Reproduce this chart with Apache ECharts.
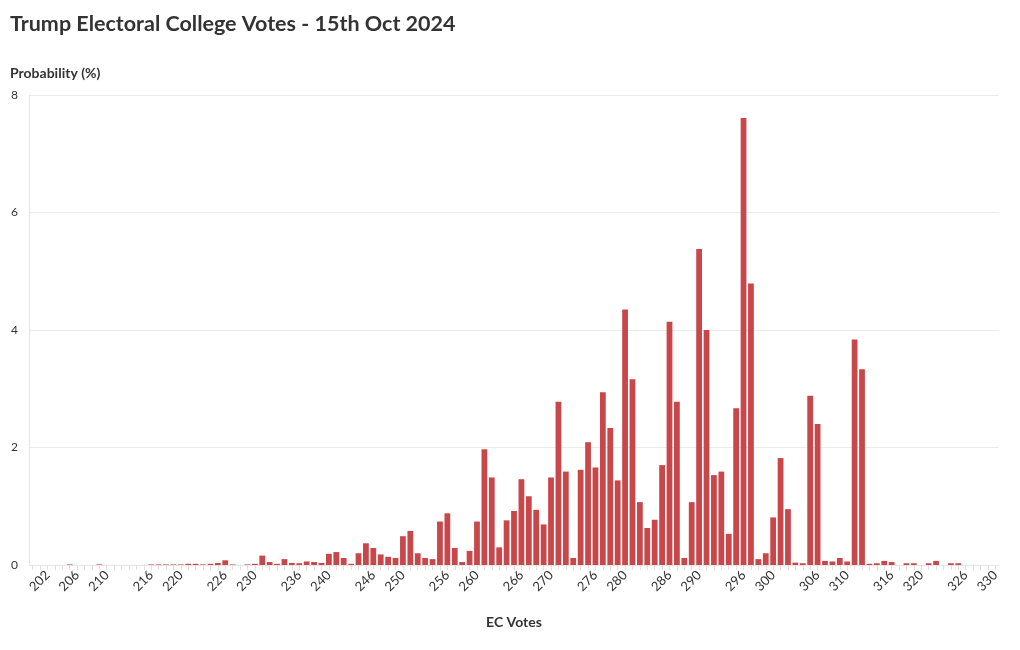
<!DOCTYPE html>
<html>
<head>
<meta charset="utf-8">
<script src="https://cdn.jsdelivr.net/npm/echarts@6/dist/echarts.min.js"></script>
<style>
html,body{margin:0;padding:0;background:#fff;}
#chart{width:1020px;height:650px;}
</style>
</head>
<body>
<div id="chart"></div>
<script>
const categories = [
  200,201,202,203,204,205,206,207,208,209,
  210,211,212,213,214,215,216,217,218,219,
  220,221,222,223,224,225,226,227,228,229,
  230,231,232,233,234,235,236,237,238,239,
  240,241,242,243,244,245,246,247,248,249,
  250,251,252,253,254,255,256,257,258,259,
  260,261,262,263,264,265,266,267,268,269,
  270,271,272,273,274,275,276,277,278,279,
  280,281,282,283,284,285,286,287,288,289,
  290,291,292,293,294,295,296,297,298,299,
  300,301,302,303,304,305,306,307,308,309,
  310,311,312,313,314,315,316,317,318,319,
  320,321,322,323,324,325,326,327,328,329,
  330
];
const probability = [
  0,0,0,0,0,0.01,0,0,0,0.01,
  0,0,0,0,0,0,0.01,0.01,0.01,0.01,
  0.01,0.02,0.02,0.01,0.02,0.035,0.08,0.01,0,0.01,
  0.02,0.16,0.05,0.02,0.1,0.035,0.03,0.06,0.05,0.035,
  0.19,0.22,0.12,0.02,0.2,0.37,0.29,0.18,0.14,0.12,
  0.49,0.58,0.2,0.12,0.1,0.74,0.88,0.29,0.05,0.24,
  0.74,1.97,1.49,0.3,0.76,0.92,1.46,1.17,0.94,0.69,
  1.49,2.78,1.59,0.12,1.62,2.09,1.66,2.94,2.33,1.44,
  4.35,3.16,1.07,0.63,0.77,1.70,4.14,2.78,0.12,1.07,
  5.38,4.0,1.53,1.59,0.53,2.67,7.61,4.79,0.1,0.2,
  0.81,1.82,0.95,0.04,0.03,2.88,2.40,0.07,0.06,0.12,
  0.06,3.84,3.33,0.02,0.03,0.07,0.05,0,0.03,0.03,
  0,0.03,0.07,0,0.03,0.03,0,0,0,0,
  0
];
const tickLabels = [202,206,210,216,220,226,230,236,240,246,250,256,260,266,270,276,280,286,290,296,300,306,310,316,320,326,330];
const yTicks = [0,2,4,6,8];

const FONT = 'Lato';
const chart = echarts.init(document.getElementById('chart'), null, {renderer:'canvas'});
chart.setOption({
  animation:false,
  backgroundColor:'#ffffff',
  textStyle:{fontFamily:FONT},
  title:[
    {text:'Trump Electoral College Votes - 15th Oct 2024', left:10, top:13, padding:0,
     textStyle:{fontFamily:FONT, fontSize:21.5, fontWeight:'bold', color:'#333333'}},
    {text:'Probability (%)', left:10, top:66, padding:0,
     textStyle:{fontFamily:FONT, fontSize:14, fontWeight:'bold', color:'#333333'}}
  ],
  grid:{left:29, right:21, top:95, bottom:85, containLabel:false},
  xAxis:{
    type:'category',
    data:categories.map(String),
    name:'EC Votes',
    nameLocation:'middle',
    nameGap:50,
    nameTextStyle:{fontFamily:FONT, fontSize:14, fontWeight:'bold', color:'#333333'},
    axisLine:{show:true, lineStyle:{color:'#e6e6e6', width:1}},
    axisTick:{show:true, alignWithLabel:true, interval:0, length:5, lineStyle:{color:'#e0e0e0'}},
    axisLabel:{
      rotate:45, fontSize:13, color:'#333333', margin:8, fontFamily:FONT,
      interval:function(idx, val){ return tickLabels.indexOf(Number(val)) >= 0; }
    },
    splitLine:{show:false}
  },
  yAxis:{
    type:'value',
    min:yTicks[0], max:yTicks[yTicks.length-1], interval:2,
    axisLine:{show:true, lineStyle:{color:'#e6e6e6'}},
    axisTick:{show:false},
    axisLabel:{fontSize:12, color:'#333333', margin:11, fontFamily:FONT},
    splitLine:{show:true, lineStyle:{color:'#ebebeb', width:1}}
  },
  series:[{
    type:'bar',
    data:probability,
    barCategoryGap:'22%',
    itemStyle:{color:'#c8474a'}
  }]
});
</script>
</body>
</html>
